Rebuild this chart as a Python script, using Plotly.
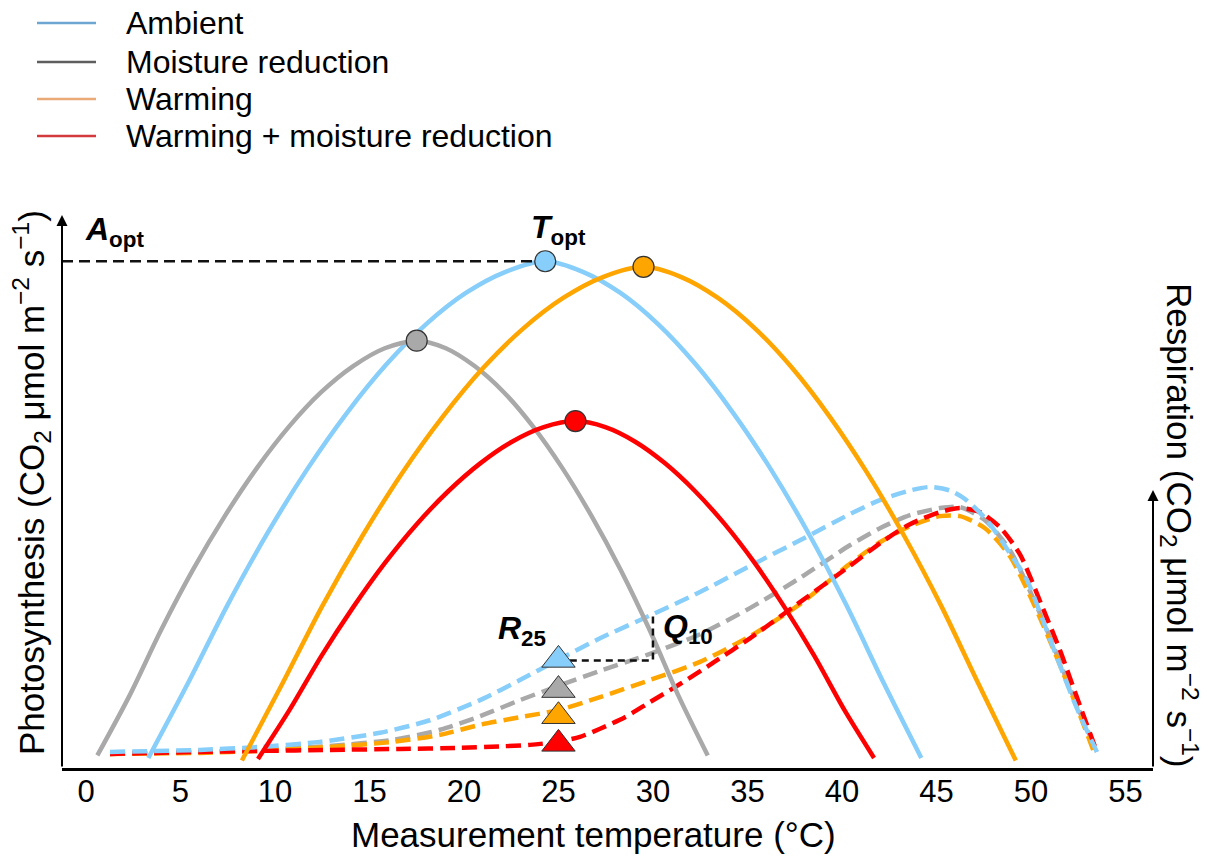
import plotly.graph_objects as go

# ---------------- data ----------------
series_names = ["Ambient", "Moisture reduction", "Warming", "Warming + moisture reduction"]
line_colors = ["#87CEFA", "#A9A9A9", "#FFA500", "#FF0000"]
legend_colors = ["#6EA6D2", "#5E5E5E", "#E9AA78", "#D23A3E"]

# Photosynthesis (solid curves)
ps_amb_t = [3.3, 5.4, 7.5, 9.6, 11.7, 13.8, 15.9, 18.0, 20.1, 22.2, 24.3, 26.29, 28.28, 30.27, 32.26, 34.25, 36.24, 38.23, 40.22, 42.21, 44.2]
ps_amb = [0.2, 1.69, 3.25, 4.67, 5.94, 7.06, 8.03, 8.83, 9.45, 9.87, 10.08, 9.87, 9.45, 8.83, 8.03, 7.06, 5.94, 4.67, 3.25, 1.69, 0.2]

ps_moist_t = [0.6, 2.29, 3.98, 5.67, 7.36, 9.05, 10.74, 12.43, 14.12, 15.81, 17.5, 19.04, 20.58, 22.12, 23.66, 25.2, 26.74, 28.28, 29.82, 31.36, 32.9]
ps_moist = [0.25, 1.43, 2.75, 3.95, 5.02, 5.97, 6.79, 7.47, 7.99, 8.35, 8.5, 8.35, 7.99, 7.47, 6.79, 5.97, 5.02, 3.95, 2.75, 1.43, 0.25]

ps_warm_t = [8.25, 10.38, 12.5, 14.63, 16.75, 18.88, 21.0, 23.13, 25.25, 27.38, 29.5, 31.47, 33.44, 35.41, 37.38, 39.35, 41.32, 43.29, 45.26, 47.23, 49.2]
ps_warm = [0.15, 1.67, 3.22, 4.62, 5.88, 6.99, 7.95, 8.74, 9.35, 9.77, 9.97, 9.77, 9.35, 8.74, 7.95, 6.99, 5.88, 4.62, 3.22, 1.67, 0.15]

ps_wm_t = [9.1, 10.78, 12.46, 14.14, 15.82, 17.5, 19.18, 20.86, 22.54, 24.22, 25.9, 27.48, 29.06, 30.64, 32.22, 33.8, 35.38, 36.96, 38.54, 40.12, 41.7]
ps_wm = [0.18, 1.16, 2.23, 3.20, 4.08, 4.85, 5.51, 6.06, 6.49, 6.78, 6.9, 6.78, 6.49, 6.06, 5.51, 4.85, 4.08, 3.20, 2.23, 1.16, 0.2]

# Respiration (dashed curves)
rs_amb_t = [1.27, 6.03, 9.21, 12.38, 15.56, 18.2, 20.85, 22.96, 24.97, 27.2, 30.0, 32.49, 35.13, 37.78, 40.42, 42.01, 43.6, 44.66, 45.71, 46.51, 47.67, 48.89, 49.79, 50.63, 51.53, 52.43, 53.49]
rs_amb = [0.32, 0.36, 0.42, 0.52, 0.70, 0.95, 1.35, 1.75, 2.15, 2.58, 3.06, 3.50, 4.02, 4.53, 5.05, 5.33, 5.52, 5.59, 5.52, 5.35, 4.93, 4.27, 3.74, 2.94, 2.05, 1.19, 0.32]

rs_moist_t = [1.27, 6.03, 9.21, 12.91, 16.24, 18.73, 20.85, 22.96, 24.97, 27.2, 29.84, 32.49, 35.13, 37.78, 40.42, 42.01, 43.6, 45.19, 46.24, 47.57, 48.89, 50.63, 52.43, 53.49]
rs_moist = [0.28, 0.32, 0.36, 0.44, 0.56, 0.76, 1.03, 1.35, 1.63, 1.93, 2.27, 2.66, 3.18, 3.78, 4.43, 4.77, 5.03, 5.17, 5.19, 4.93, 4.33, 2.94, 1.25, 0.32]

rs_warm_t = [1.27, 6.03, 9.21, 12.91, 16.24, 18.73, 20.85, 22.96, 24.97, 27.2, 29.84, 32.49, 35.13, 37.78, 40.42, 42.01, 43.6, 45.19, 46.24, 47.57, 48.89, 50.63, 52.43, 53.39]
rs_warm = [0.28, 0.30, 0.34, 0.42, 0.52, 0.66, 0.86, 1.01, 1.15, 1.41, 1.75, 2.11, 2.62, 3.26, 4.06, 4.49, 4.81, 5.01, 5.01, 4.77, 4.21, 2.86, 1.21, 0.26]

rs_wm_t = [1.27, 6.03, 9.21, 12.91, 16.61, 19.79, 21.9, 23.49, 24.92, 26.14, 27.2, 28.52, 29.84, 31.43, 33.17, 35.13, 37.78, 40.42, 42.01, 43.6, 45.19, 46.24, 47.3, 48.36, 49.42, 50.63, 51.53, 52.43, 53.49]
rs_wm = [0.28, 0.32, 0.34, 0.36, 0.38, 0.40, 0.43, 0.46, 0.52, 0.62, 0.78, 1.01, 1.31, 1.67, 2.09, 2.58, 3.30, 4.02, 4.47, 4.85, 5.09, 5.17, 5.09, 4.79, 4.25, 3.18, 2.35, 1.41, 0.32]

# optimum points (Topt, Aopt) and respiration at 25 °C
topt = [24.3, 17.5, 29.5, 25.9]
aopt = [10.08, 8.5, 9.97, 6.9]
r25_temp = 25
r25 = [2.15, 1.55, 1.03, 0.48]

# Q10 bracket (temperature, respiration)
q10_t = [25.6, 30.0, 30.0]
q10_r = [2.14, 2.14, 3.04]

x_ticks = [0, 5, 10, 15, 20, 25, 30, 35, 40, 45, 50, 55]
x_range = [-1.27, 56.46]
y_range = [0, 11]

FONT = "Liberation Sans, Arial, sans-serif"

ps_t = [ps_amb_t, ps_moist_t, ps_warm_t, ps_wm_t]
ps_v = [ps_amb, ps_moist, ps_warm, ps_wm]
rs_t = [rs_amb_t, rs_moist_t, rs_warm_t, rs_wm_t]
rs_v = [rs_amb, rs_moist, rs_warm, rs_wm]

fig = go.Figure()

# dashed respiration curves (drawn first, blue last)
for i in [1, 2, 3, 0]:
    fig.add_trace(go.Scatter(x=rs_t[i], y=rs_v[i], mode="lines", showlegend=False,
                             line=dict(color=line_colors[i], width=4.5, dash="15px,7px", shape="spline", smoothing=0.7),
                             hoverinfo="skip"))

# solid photosynthesis curves
for i in range(4):
    fig.add_trace(go.Scatter(x=ps_t[i], y=ps_v[i], mode="lines", showlegend=False,
                             line=dict(color=line_colors[i], width=4.5, shape="spline", smoothing=0.8),
                             hoverinfo="skip"))

# Aopt reference line
fig.add_trace(go.Scatter(x=[x_range[0], topt[0]], y=[aopt[0], aopt[0]], mode="lines", showlegend=False,
                         line=dict(color="#111111", width=2.5, dash="11px,6px"), hoverinfo="skip"))

# Q10 bracket
fig.add_trace(go.Scatter(x=q10_t, y=q10_r, mode="lines", showlegend=False,
                         line=dict(color="#111111", width=2.5, dash="7px,5px"), hoverinfo="skip"))

# R25 triangles
for i in range(4):
    fig.add_trace(go.Scatter(x=[r25_temp], y=[r25[i]], mode="markers", showlegend=False,
                             marker=dict(symbol="triangle-up", size=29, color=line_colors[i],
                                         line=dict(color="#333333", width=1)), hoverinfo="skip"))

# Topt circles
for i in range(4):
    fig.add_trace(go.Scatter(x=[topt[i]], y=[aopt[i]], mode="markers", showlegend=False,
                             marker=dict(symbol="circle", size=21, color=line_colors[i],
                                         line=dict(color="#333333", width=1.2)), hoverinfo="skip"))

W, H = 1218, 857
ml, mr, mt, mb = 62, 65, 215, 89
pw, ph = W - ml - mr, H - mt - mb


def px_x(p):
    return (p - ml) / pw


def px_y(p):
    return (H - mb - p) / ph


annotations = []
shapes = []

# manual legend
legend_rows = [23, 62, 99, 136]
for i, name in enumerate(series_names):
    yy = px_y(legend_rows[i])
    shapes.append(dict(type="line", xref="paper", yref="paper", x0=px_x(37), x1=px_x(96), y0=yy, y1=yy,
                       line=dict(color=legend_colors[i], width=2.5)))
    annotations.append(dict(xref="paper", yref="paper", x=px_x(124), y=yy, text=name, showarrow=False,
                            xanchor="left", yanchor="middle", font=dict(size=32, color="black", family=FONT)))

# axis arrows
annotations.append(dict(xref="paper", yref="paper", x=0, y=1, ax=0, ay=ph, axref="pixel", ayref="pixel",
                        showarrow=True, arrowhead=2, arrowsize=1.1, arrowwidth=2, arrowcolor="black", text=""))
annotations.append(dict(xref="paper", yref="paper", x=1, y=px_y(490), ax=0, ay=H - mb - 490,
                        showarrow=True, arrowhead=2, arrowsize=1.1, arrowwidth=2, arrowcolor="black", text=""))

# axis titles
annotations.append(dict(xref="paper", yref="paper", x=px_x(31), y=px_y(483), textangle=-90,
                        text="Photosynthesis (CO<sub>2</sub> μmol m<sup>−2</sup> s<sup>−1</sup>)",
                        showarrow=False, xanchor="center", yanchor="middle",
                        font=dict(size=35, color="black", family=FONT)))
annotations.append(dict(xref="paper", yref="paper", x=px_x(1180), y=px_y(525), textangle=90,
                        text="Respiration (CO<sub>2</sub> μmol m<sup>−2</sup> s<sup>−1</sup>)",
                        showarrow=False, xanchor="center", yanchor="middle",
                        font=dict(size=35, color="black", family=FONT)))
annotations.append(dict(xref="paper", yref="paper", x=px_x(593), y=px_y(835),
                        text="Measurement temperature (°C)",
                        showarrow=False, xanchor="center", yanchor="middle",
                        font=dict(size=35, color="black", family=FONT)))

# parameter labels
lab_font = dict(size=32, color="black", family=FONT)
annotations.append(dict(x=1.53, y=10.68, text="<b><i>A</i><sub>opt</sub></b>", showarrow=False, font=lab_font))
annotations.append(dict(x=topt[0] + 0.7, y=10.72, text="<b><i>T</i><sub>opt</sub></b>", showarrow=False, font=lab_font))
annotations.append(dict(x=23.07, y=2.74, text="<b><i>R</i><sub>25</sub></b>", showarrow=False, font=lab_font))
annotations.append(dict(x=31.85, y=2.78, text="<b><i>Q</i><sub>10</sub></b>", showarrow=False, font=lab_font))

fig.update_layout(
    width=W, height=H,
    margin=dict(l=ml, r=mr, t=mt, b=mb, pad=0),
    paper_bgcolor="white", plot_bgcolor="white",
    font=dict(family=FONT, color="black"),
    showlegend=False,
    annotations=annotations,
    shapes=shapes,
    xaxis=dict(range=x_range, tickvals=x_ticks, ticktext=[str(v) for v in x_ticks],
               showline=True, linecolor="black", linewidth=3, ticks="", showgrid=False, zeroline=False,
               ticklabelstandoff=-6,
               tickfont=dict(size=31, family=FONT, color="black")),
    yaxis=dict(range=y_range, showticklabels=False, ticks="", showgrid=False, zeroline=False, showline=False),
)

fig.write_html("out.html")
